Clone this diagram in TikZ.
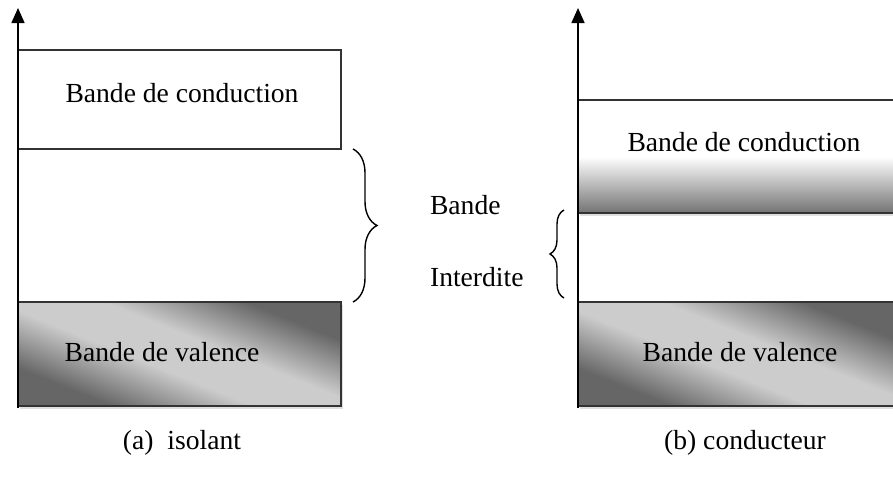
\documentclass[tikz,border=0pt]{standalone}
\usepackage{fontspec}
\setmainfont{Liberation Serif}
\usetikzlibrary{arrows.meta,decorations.pathreplacing,fit,shadows}

\pgfdeclareverticalshading{valgrad}{100bp}{color(0bp)=(black!60); color(28bp)=(black!60);
  color(44bp)=(black!20); color(56bp)=(black!20); color(72bp)=(black!60); color(100bp)=(black!60)}

\begin{document}
\begin{tikzpicture}
[x=0.5pt,y=-0.5pt
,every node/.style={font=\fontsize{13.8}{16}\selectfont}
,band/.style={draw=black!80,line width=0.8pt,inner sep=0pt}
,valence/.style={band,shading=valgrad,shading angle=-22
  ,drop shadow={shadow xshift=0.8pt,shadow yshift=-1.5pt,opacity=0.25}}
,conduction/.style={band,top color=white,bottom color=black!55,middle color=white
  ,drop shadow={shadow xshift=0.8pt,shadow yshift=-1.5pt,opacity=0.25}}
,axis/.style={line width=0.8pt,-{Triangle[length=7.5pt,width=6.5pt]}}
,gap/.style={decorate,decoration={brace,amplitude=#1},line width=0.7pt}
]
\useasboundingbox (0,0) rectangle (893,482);

% (a) isolant
\node[band,fit={(18,50) (341,149)}]   (condA) {};
\node[valence,fit={(18,302) (341,406)}] (valA) {};
\node (condAtxt) at (182,93)  {Bande de conduction};
\node (valAtxt)  at (162,352) {Bande de valence};
\coordinate (baseA) at (18,408);
\coordinate (topA)  at (18,8);
\draw [axis] (baseA) -- (topA);
\node (capA) at (182,443) {(a)\ \ isolant};

% bande interdite
\coordinate (gapAtop) at (353,149);
\coordinate (gapAbot) at (353,302);
\draw [gap=12pt] (gapAtop) -- (gapAbot);
\node[anchor=west] (gapTxt1) at (423,205) {Bande};
\node[anchor=west] (gapTxt2) at (423,277) {Interdite};

% (b) conducteur
\node[conduction,fit={(578,100) (897,213)}] (condB) {};
\node[valence,fit={(578,302) (897,406)}]    (valB) {};
\node (condBtxt) at (744,142) {Bande de conduction};
\node (valBtxt)  at (740,352) {Bande de valence};
\coordinate (baseB) at (578,408);
\coordinate (topB)  at (578,8);
\draw [axis] (baseB) -- (topB);
\node (capB) at (745,443) {(b) conducteur};

\coordinate (gapBtop) at (564,210);
\coordinate (gapBbot) at (564,298);
\draw [gap=7pt] (gapBbot) -- (gapBtop);

\end{tikzpicture}
\end{document}
